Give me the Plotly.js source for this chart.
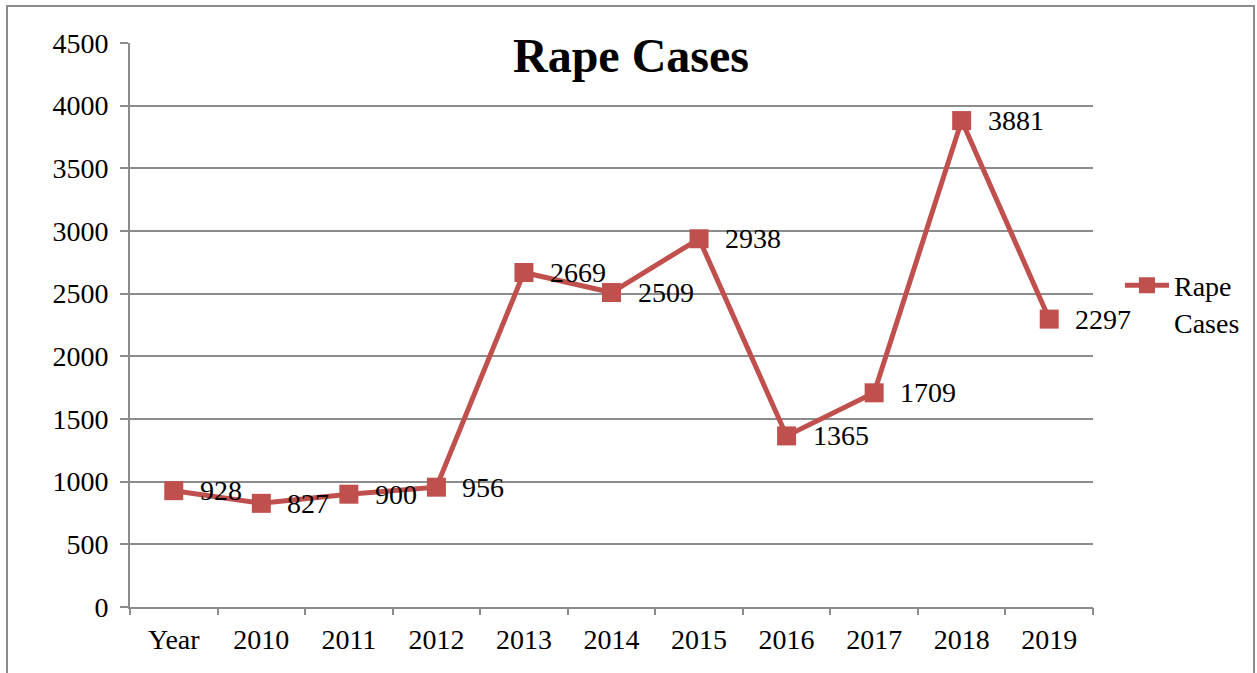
<!DOCTYPE html>
<html>
<head>
<meta charset="utf-8">
<script src="https://cdn.plot.ly/plotly-3.0.1.min.js"></script>
<style>html,body{margin:0;padding:0;background:#fff;}#chart{width:1257px;height:673px;}</style>
</head>
<body>
<div id="chart"></div>
<script>
const categories = ["Year", "2010", "2011", "2012", "2013", "2014", "2015", "2016", "2017", "2018", "2019"];
const rapeCases = [928, 827, 900, 956, 2669, 2509, 2938, 1365, 1709, 3881, 2297];
const seriesName = "Rape<br>Cases";
const chartTitle = "Rape Cases";

const FONT = "Liberation Serif, Times New Roman, serif";
const RED = "#C0504D";
const GRID = "#8c8c8c";
const FS = 28;

const trace = {
  type: "scatter",
  mode: "lines+markers",
  x: categories.map((c, i) => i),
  y: rapeCases,
  name: seriesName,
  line: {color: RED, width: 5},
  marker: {symbol: "square", size: 19, color: RED},
  cliponaxis: false,
  hoverinfo: "y"
};

const annotations = rapeCases.map((v, i) => ({
  x: i, y: v, xref: "x", yref: "y",
  text: String(v),
  showarrow: false, xanchor: "left", yanchor: "middle",
  xshift: 24, yshift: 0,
  font: {family: FONT, size: FS, color: "#000"}
}));

const layout = {
  width: 1257, height: 673,
  margin: {l: 130, r: 164, t: 43, b: 66, autoexpand: false},
  paper_bgcolor: "#fff", plot_bgcolor: "#fff",
  font: {family: FONT, size: FS, color: "#000"},
  title: {text: "<b>" + chartTitle + "</b>", x: 0.502, xanchor: "center", y: 0.918, yanchor: "middle",
          font: {family: FONT, size: 48, color: "#000"}},
  showlegend: true,
  legend: {x: 1.028, xanchor: "left", y: 0.538, yanchor: "middle", valign: "top", itemwidth: 44,
           font: {family: FONT, size: FS, color: "#000"}, bgcolor: "rgba(0,0,0,0)"},
  xaxis: {
    type: "linear",
    range: [-0.5, categories.length - 0.5],
    tickmode: "array",
    tickvals: categories.map((c, i) => i),
    ticktext: categories,
    ticks: "",
    showline: true, linecolor: GRID, linewidth: 2,
    showgrid: false, zeroline: false,
    tickfont: {family: FONT, size: FS, color: "#000"},
    ticklabelstandoff: 6,
    fixedrange: true
  },
  xaxis2: {
    overlaying: "x", matches: "x", anchor: "y",
    range: [-0.5, categories.length - 0.5],
    tickmode: "array",
    tickvals: categories.map((c, i) => i - 0.5).concat([categories.length - 0.5]),
    ticktext: categories.map(() => "").concat([""]),
    ticks: "outside", ticklen: 7, tickcolor: GRID, tickwidth: 2,
    showline: false, showgrid: false, zeroline: false, side: "bottom",
    fixedrange: true
  },
  yaxis: {
    range: [0, 4500], dtick: 500, tick0: 0,
    ticks: "outside", ticklen: 8, tickcolor: GRID, tickwidth: 2,
    showline: true, linecolor: GRID, linewidth: 2,
    showgrid: true, gridcolor: GRID, gridwidth: 2,
    zeroline: false,
    tickfont: {family: FONT, size: FS, color: "#000"},
    ticklabelstandoff: 6,
    fixedrange: true
  },
  annotations: annotations,
  shapes: [{
    type: "rect", xref: "paper", yref: "paper",
    x0: (7 - 130) / 963, x1: (1254 - 130) / 963,
    y0: -0.3, y1: (607 - 6) / 564,
    line: {color: "#8c8c8c", width: 2}, fillcolor: "rgba(0,0,0,0)", layer: "below"
  }]
};

const ghost = {type: "scatter", x: [], y: [], xaxis: "x2", yaxis: "y", showlegend: false, hoverinfo: "skip"};

Plotly.newPlot("chart", [trace, ghost], layout, {displayModeBar: false, staticPlot: true});
</script>
</body>
</html>
